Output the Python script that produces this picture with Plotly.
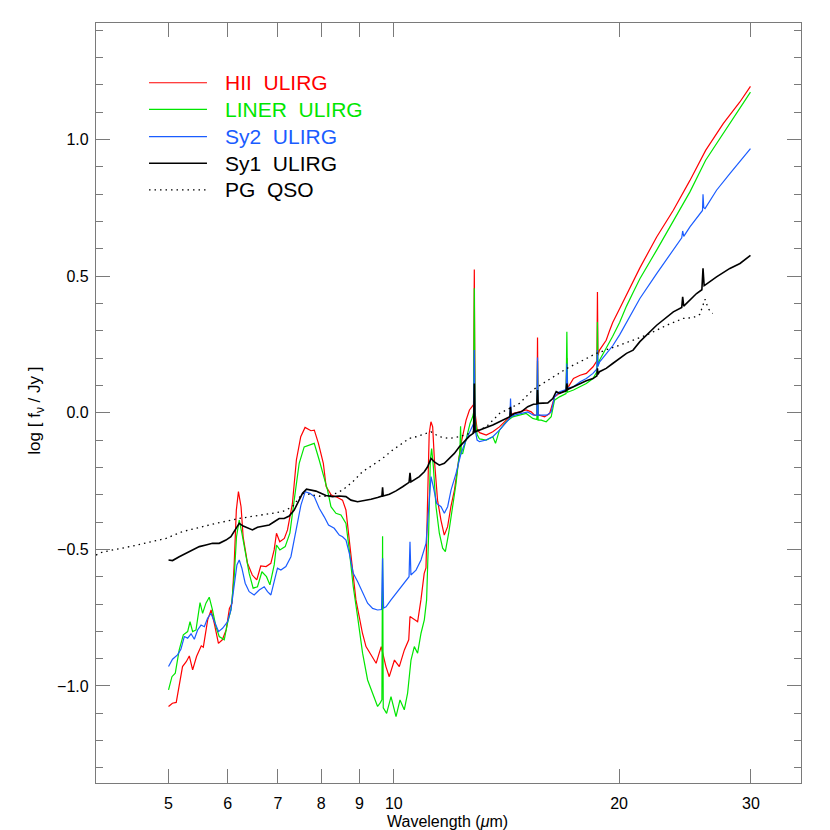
import plotly.graph_objects as go

# ---------------- data ----------------
hii_wl = [5.00, 5.06, 5.12, 5.22, 5.28, 5.33, 5.385, 5.45, 5.53, 5.565, 5.64, 5.70, 5.755, 5.83, 5.90, 5.97,
          6.03, 6.08, 6.12, 6.16, 6.20, 6.25, 6.29, 6.375, 6.47, 6.56, 6.64, 6.75, 6.85, 6.92, 6.97, 7.04,
          7.14, 7.21, 7.32, 7.41, 7.51, 7.61, 7.75, 7.83, 7.93, 8.05, 8.12, 8.25, 8.41, 8.54, 8.63, 8.72,
          8.81, 8.90, 8.99, 9.08, 9.18, 9.32, 9.47, 9.56, 9.62, 9.76, 9.86, 10.02, 10.17, 10.33, 10.47,
          10.51, 10.65, 10.76, 10.87, 10.98, 11.04, 11.10, 11.15, 11.21, 11.27, 11.33, 11.44, 11.56, 11.68,
          11.80, 11.92, 12.05, 12.17, 12.30, 12.49, 12.62, 12.72, 12.78, 12.81, 12.84, 12.92, 13.02, 13.29,
          13.56, 13.84, 14.13, 14.42, 14.72, 15.03, 15.26, 15.42, 15.53, 15.56, 15.59, 15.65, 15.90, 16.15,
          16.40, 16.65, 16.99, 17.03, 17.07, 17.38, 17.74, 18.08, 18.46, 18.68, 18.71, 18.74, 18.83, 19.22,
          19.42, 19.61, 20.03, 20.46, 20.88, 21.32, 22.45, 23.63, 24.87, 26.10, 27.55, 29.00, 29.96]
hii_val = [-1.075, -1.063, -1.060, -0.929, -0.911, -0.890, -0.941, -0.892, -0.853, -0.858, -0.758, -0.722, -0.770,
           -0.844, -0.831, -0.795, -0.716, -0.697, -0.551, -0.356, -0.289, -0.344, -0.454, -0.551, -0.594,
           -0.612, -0.561, -0.563, -0.551, -0.502, -0.441, -0.472, -0.460, -0.429, -0.332, -0.173, -0.088,
           -0.054, -0.066, -0.064, -0.112, -0.185, -0.270, -0.301, -0.310, -0.320, -0.356, -0.466, -0.588,
           -0.685, -0.746, -0.807, -0.856, -0.886, -0.917, -0.880, -0.856, -0.929, -0.966, -0.905, -0.929,
           -0.868, -0.831, -0.746, -0.758, -0.765, -0.685, -0.588, -0.568, -0.320, -0.076, -0.033, -0.052,
           -0.173, -0.320, -0.393, -0.448, -0.417, -0.344, -0.283, -0.198, -0.112, -0.027, 0.010, 0.022,
           0.030, 0.524, 0.000, -0.060, -0.073, -0.082, -0.070, -0.052, -0.027, -0.003, 0.003, 0.010, 0.003,
           -0.009, -0.010, 0.275, -0.010, -0.009, -0.015, -0.003, 0.058, 0.071, 0.083, 0.200, 0.090, 0.125,
           0.137, 0.144, 0.168, 0.190, 0.442, 0.210, 0.229, 0.265, 0.300, 0.330, 0.380, 0.430, 0.480, 0.530,
           0.643, 0.741, 0.850, 0.960, 1.058, 1.137, 1.194]

liner_wl = [5.00, 5.053, 5.105, 5.167, 5.233, 5.303, 5.342, 5.385, 5.441, 5.509, 5.553, 5.61, 5.667, 5.725,
            5.785, 5.844, 5.935, 5.995, 6.058, 6.12, 6.163, 6.215, 6.266, 6.33, 6.408, 6.487, 6.574, 6.664,
            6.759, 6.83, 6.921, 6.97, 7.043, 7.159, 7.263, 7.36, 7.474, 7.59, 7.708, 7.828, 7.949, 8.073,
            8.155, 8.241, 8.369, 8.499, 8.631, 8.719, 8.827, 8.945, 9.084, 9.225, 9.368, 9.513, 9.60, 9.64,
            9.66, 9.68, 9.781, 9.914, 10.068, 10.192, 10.327, 10.433, 10.543, 10.651, 10.759, 10.873, 10.984,
            11.062, 11.131, 11.189, 11.234, 11.293, 11.387, 11.503, 11.621, 11.718, 11.838, 11.984, 12.11,
            12.21, 12.25, 12.28, 12.31, 12.359, 12.512, 12.643, 12.745, 12.78, 12.81, 12.84, 12.92, 13.016,
            13.287, 13.56, 13.673, 13.841, 14.129, 14.419, 14.72, 15.026, 15.334, 15.53, 15.56, 15.59,
            15.737, 15.982, 16.229, 16.395, 16.649, 16.99, 17.03, 17.07, 17.38, 17.74, 18.08, 18.455, 18.68,
            18.71, 18.74, 18.83, 19.22, 19.42, 19.61, 20.03, 20.46, 20.88, 21.32, 22.45, 23.63, 24.87, 26.10,
            27.55, 29.00, 29.96]
liner_val = [-1.014, -0.966, -0.953, -0.868, -0.813, -0.801, -0.765, -0.801, -0.795, -0.695, -0.734, -0.697,
             -0.675, -0.722, -0.783, -0.819, -0.831, -0.770, -0.722, -0.600, -0.454, -0.393, -0.441, -0.514,
             -0.588, -0.642, -0.637, -0.582, -0.600, -0.630, -0.557, -0.484, -0.502, -0.490, -0.441, -0.320,
             -0.185, -0.125, -0.118, -0.112, -0.173, -0.246, -0.283, -0.344, -0.368, -0.374, -0.405, -0.502,
             -0.637, -0.746, -0.880, -0.978, -1.026, -1.075, -1.060, -1.050, -0.452, -1.080, -1.100, -1.039,
             -1.112, -1.051, -1.087, -1.026, -0.905, -0.856, -0.880, -0.807, -0.758, -0.685, -0.441, -0.173,
             -0.131, -0.198, -0.344, -0.441, -0.496, -0.508, -0.441, -0.344, -0.259, -0.170, -0.150, -0.050,
             -0.150, -0.149, -0.088, -0.039, -0.015, 0.000, 0.455, -0.020, -0.080, -0.096, -0.100, -0.088,
             -0.112, -0.064, -0.033, -0.015, -0.009, -0.003, -0.021, -0.025, 0.190, -0.027, -0.027, -0.033,
             -0.015, 0.046, 0.058, 0.070, 0.296, 0.075, 0.083, 0.095, 0.107, 0.125, 0.150, 0.332, 0.170,
             0.192, 0.235, 0.260, 0.280, 0.330, 0.390, 0.440, 0.490, 0.595, 0.704, 0.808, 0.924, 1.021,
             1.113, 1.173]

sy2_wl = [5.00, 5.062, 5.14, 5.194, 5.249, 5.303, 5.359, 5.413, 5.468, 5.526, 5.582, 5.638, 5.697, 5.755,
          5.832, 5.904, 5.995, 6.058, 6.12, 6.171, 6.215, 6.266, 6.33, 6.408, 6.507, 6.609, 6.711, 6.78,
          6.851, 6.921, 6.991, 7.065, 7.174, 7.286, 7.399, 7.514, 7.614, 7.725, 7.828, 7.949, 8.073, 8.18,
          8.325, 8.455, 8.541, 8.631, 8.719, 8.827, 8.945, 9.084, 9.225, 9.368, 9.513, 9.63, 9.66, 9.69,
          9.763, 9.914, 10.068, 10.223, 10.381, 10.48, 10.51, 10.54, 10.707, 10.873, 11.042, 11.131, 11.213,
          11.293, 11.408, 11.564, 11.682, 11.801, 11.925, 12.11, 12.298, 12.489, 12.682, 12.78, 12.81,
          12.84, 12.92, 13.016, 13.287, 13.56, 13.841, 14.129, 14.29, 14.32, 14.35, 14.495, 14.797, 15.10,
          15.367, 15.53, 15.56, 15.59, 15.737, 16.011, 16.229, 16.395, 16.649, 16.99, 17.03, 17.07, 17.38,
          17.74, 18.08, 18.455, 18.68, 18.71, 18.74, 18.83, 19.22, 19.61, 20.03, 20.46, 20.88, 21.32, 22.45,
          23.63, 24.25, 24.32, 24.40, 24.87, 25.64, 25.85, 25.89, 25.95, 26.05, 26.99, 28.12, 29.01, 29.96]
sy2_val = [-0.929, -0.902, -0.886, -0.866, -0.819, -0.825, -0.809, -0.829, -0.795, -0.777, -0.783, -0.752,
           -0.734, -0.765, -0.801, -0.789, -0.765, -0.722, -0.637, -0.557, -0.539, -0.569, -0.624, -0.655,
           -0.667, -0.649, -0.637, -0.655, -0.667, -0.612, -0.569, -0.576, -0.563, -0.527, -0.429, -0.338,
           -0.289, -0.295, -0.307, -0.350, -0.381, -0.411, -0.423, -0.448, -0.454, -0.466, -0.514, -0.588,
           -0.618, -0.661, -0.697, -0.716, -0.722, -0.720, -0.533, -0.715, -0.710, -0.685, -0.661, -0.637,
           -0.612, -0.600, -0.472, -0.594, -0.576, -0.539, -0.478, -0.356, -0.234, -0.271, -0.332, -0.344,
           -0.368, -0.344, -0.283, -0.222, -0.149, -0.100, -0.057, -0.040, 0.229, -0.060, -0.100, -0.106,
           -0.100, -0.088, -0.064, -0.033, -0.020, 0.052, -0.015, -0.009, -0.003, 0.003, -0.009, -0.009,
           0.202, -0.009, -0.009, -0.009, 0.003, 0.058, 0.077, 0.085, 0.180, 0.090, 0.095, 0.113, 0.125,
           0.144, 0.160, 0.229, 0.170, 0.185, 0.215, 0.245, 0.285, 0.330, 0.375, 0.418, 0.509, 0.595, 0.640,
           0.665, 0.645, 0.680, 0.729, 0.740, 0.799, 0.750, 0.747, 0.814, 0.875, 0.920, 0.966]

sy1_wl = [5.00, 5.062, 5.167, 5.277, 5.385, 5.497, 5.61, 5.725, 5.844, 5.966, 6.058, 6.139, 6.215, 6.291,
          6.375, 6.473, 6.574, 6.676, 6.815, 6.921, 7.028, 7.137, 7.248, 7.36, 7.458, 7.551, 7.644, 7.749,
          7.869, 7.991, 8.115, 8.282, 8.455, 8.631, 8.765, 8.945, 9.132, 9.322, 9.513, 9.64, 9.66, 9.68,
          9.863, 10.068, 10.274, 10.48, 10.51, 10.54, 10.816, 10.984, 11.096, 11.213, 11.328, 11.503,
          11.682, 11.863, 12.047, 12.234, 12.424, 12.616, 12.78, 12.81, 12.84, 13.016, 13.287, 13.56,
          13.841, 14.129, 14.29, 14.32, 14.35, 14.495, 14.797, 15.10, 15.367, 15.53, 15.56, 15.59, 15.737,
          16.061, 16.309, 16.481, 16.649, 16.99, 17.03, 17.07, 17.38, 17.74, 18.08, 18.455, 18.68, 18.71,
          18.74, 18.83, 19.22, 19.61, 20.03, 20.46, 20.88, 21.32, 22.45, 23.63, 24.25, 24.32, 24.40, 24.61,
          25.38, 25.80, 25.89, 25.98, 26.05, 26.99, 28.12, 29.01, 29.96]
sy1_val = [-0.539, -0.541, -0.527, -0.514, -0.502, -0.490, -0.484, -0.478, -0.478, -0.466, -0.454, -0.429,
           -0.405, -0.415, -0.421, -0.429, -0.419, -0.415, -0.411, -0.399, -0.387, -0.387, -0.378, -0.356,
           -0.326, -0.295, -0.280, -0.283, -0.287, -0.295, -0.303, -0.307, -0.305, -0.307, -0.320, -0.326,
           -0.322, -0.317, -0.310, -0.305, -0.273, -0.305, -0.298, -0.286, -0.271, -0.255, -0.220, -0.253,
           -0.234, -0.216, -0.198, -0.167, -0.180, -0.192, -0.185, -0.167, -0.149, -0.125, -0.106, -0.086,
           -0.075, 0.107, -0.070, -0.064, -0.052, -0.045, -0.033, -0.021, -0.015, 0.022, -0.010, -0.003,
           0.003, 0.022, 0.031, 0.032, 0.083, 0.034, 0.034, 0.036, 0.052, 0.077, 0.071, 0.080, 0.107, 0.085,
           0.095, 0.107, 0.117, 0.125, 0.135, 0.162, 0.140, 0.150, 0.162, 0.180, 0.198, 0.217, 0.229, 0.260,
           0.320, 0.369, 0.385, 0.424, 0.390, 0.400, 0.436, 0.450, 0.528, 0.465, 0.467, 0.497, 0.528, 0.546,
           0.576]

pg_wl = [4.00, 4.08, 4.476, 4.96, 5.22, 5.785, 6.215, 6.676, 7.10, 7.32, 7.55, 7.79, 8.03, 8.28, 8.54, 8.81,
         9.08, 9.37, 9.66, 9.96, 10.27, 10.49, 10.71, 11.04, 11.21, 11.50, 11.86, 12.23, 12.62, 13.29, 13.84,
         14.72, 15.33, 15.82, 16.31, 17.03, 18.08, 18.64, 20.03, 21.76, 23.15, 24.36, 25.12, 25.64, 26.05,
         26.32, 26.67]
pg_val = [-0.521, -0.510, -0.488, -0.460, -0.435, -0.405, -0.387, -0.374, -0.362, -0.344, -0.295, -0.301,
          -0.307, -0.301, -0.283, -0.253, -0.216, -0.192, -0.167, -0.137, -0.112, -0.094, -0.088, -0.076,
          -0.070, -0.088, -0.094, -0.088, -0.076, -0.052, -0.003, 0.034, 0.083, 0.107, 0.131, 0.162, 0.198,
          0.217, 0.247, 0.284, 0.320, 0.345, 0.348, 0.360, 0.415, 0.380, 0.363]

x_tickvals = [5, 6, 7, 8, 9, 10, 20, 30]
x_ticktext = ["5", "6", "7", "8", "9", "10", "20", "30"]

series_names = ["HII\u00a0 ULIRG", "LINER\u00a0 ULIRG", "Sy2\u00a0 ULIRG", "Sy1\u00a0 ULIRG", "PG\u00a0 QSO"]
series_colors = ["#ff0000", "#00e600", "#1a5cff", "#000000", "#000000"]

# ---------------- figure ----------------
FONT = "Liberation Sans, Arial, sans-serif"
AX = "#7a7a7a"

fig = go.Figure()
traces = [(hii_wl, hii_val), (liner_wl, liner_val), (sy2_wl, sy2_val), (sy1_wl, sy1_val), (pg_wl, pg_val)]
widths = [1.2, 1.2, 1.2, 1.6, 1.3]
dashes = ["solid", "solid", "solid", "solid", "1.5px,4px"]
for i, (wl, val) in enumerate(traces):
    fig.add_trace(go.Scatter(x=wl, y=val, mode="lines", name=series_names[i],
                             line=dict(color=series_colors[i], width=widths[i], dash=dashes[i]),
                             showlegend=False, hoverinfo="skip"))

# hand-drawn legend (as in the original)
row_y = [0.9214, 0.8864, 0.8504, 0.8154, 0.7803]
text_colors = ["#ff0000", "#00e600", "#1a5cff", "#000000", "#000000"]
for i, name in enumerate(series_names):
    fig.add_shape(type="line", xref="paper", yref="paper", x0=0.0752, x1=0.1574, y0=row_y[i], y1=row_y[i],
                  line=dict(color=series_colors[i], width=widths[i], dash=dashes[i]))
    fig.add_annotation(xref="paper", yref="paper", x=0.180, y=row_y[i], text=name, showarrow=False,
                       xanchor="left", yanchor="middle",
                       font=dict(family=FONT, size=21, color=text_colors[i]))

# axis titles
fig.add_annotation(xref="paper", yref="paper", x=-0.085, y=0.49, text="log [ f<sub>ν</sub> / Jy ]",
                   textangle=-90, showarrow=False, xanchor="center", yanchor="middle",
                   font=dict(family=FONT, size=17, color="black"))
fig.add_annotation(xref="paper", yref="paper", x=0.499, y=-0.050, text="Wavelength (<i>μ</i>m)",
                   showarrow=False, xanchor="center", yanchor="middle",
                   font=dict(family=FONT, size=16, color="black"))

fig.update_xaxes(type="log", range=[0.60206, 1.54407], tickmode="array", tickvals=x_tickvals,
                 ticktext=x_ticktext, ticks="inside", ticklen=14, tickwidth=1, tickcolor=AX,
                 showline=True, linecolor=AX, linewidth=1.2, mirror="ticks", showgrid=False, zeroline=False,
                 tickfont=dict(family=FONT, size=16, color="black"), ticklabelstandoff=6)
fig.update_yaxes(range=[-1.355, 1.426], tick0=0, dtick=0.5, tickformat=".1f", ticks="inside", ticklen=14,
                 tickwidth=1, tickcolor=AX, showline=True, linecolor=AX, linewidth=1.2, mirror="ticks",
                 showgrid=False, zeroline=False, tickfont=dict(family=FONT, size=16, color="black"),
                 ticklabelstandoff=3,
                 minor=dict(ticks="inside", ticklen=7, dtick=0.1, tick0=0, tickcolor=AX, showgrid=False))

fig.update_layout(width=830, height=830, margin=dict(l=96, r=29, t=23, b=47),
                  paper_bgcolor="white", plot_bgcolor="white", showlegend=False)

fig.write_html("out.html", config={"displayModeBar": False},
               post_script="document.body.style.margin='0';document.body.style.overflow='hidden';")
